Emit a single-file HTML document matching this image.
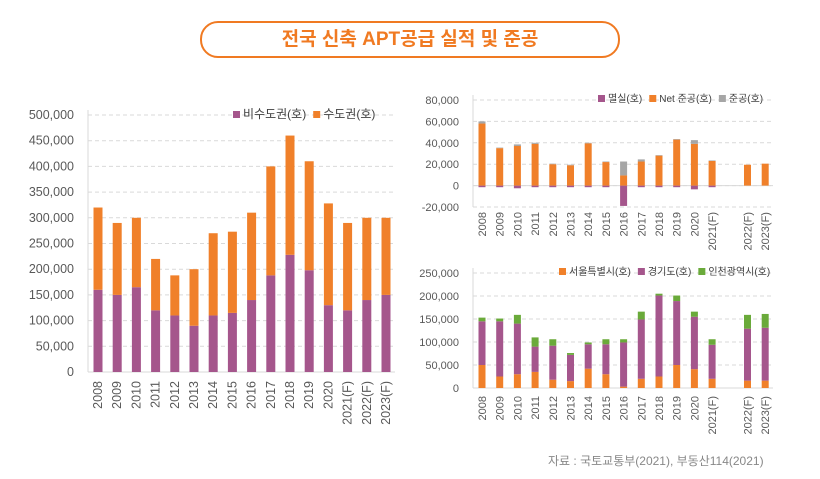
<!DOCTYPE html>
<html><head><meta charset="utf-8"><style>
body{margin:0;background:#fff;width:820px;height:479px;overflow:hidden;font-family:"Liberation Sans","Noto Sans CJK KR",sans-serif}
#title{position:absolute;left:200px;top:21px;width:416px;height:33px;border:2.5px solid #f07a22;border-radius:18px;text-align:center;line-height:33px;font-size:19px;font-weight:bold;color:#f07a22}
#src{position:absolute;left:548px;top:452px;font-size:12px;color:#888}
svg{position:absolute;left:0;top:0}
</style></head><body>
<div id="title">전국 신축 APT공급 실적 및 준공</div>
<div id="src">자료 : 국토교통부(2021), 부동산114(2021)</div>
<svg id="svg" width="820" height="479"></svg>
<script>
// Left chart
const catsL=["2008","2009","2010","2011","2012","2013","2014","2015","2016","2017","2018","2019","2020","2021(F)","2022(F)","2023(F)"];
const nonCapital=[160000,150000,165000,120000,110000,90000,110000,115000,140000,188000,228000,198000,130000,120000,140000,150000];
const capital=[160000,140000,135000,100000,78000,110000,160000,158000,170000,212000,232000,212000,198000,170000,160000,150000];
const ticksL=[0,50000,100000,150000,200000,250000,300000,350000,400000,450000,500000];
// Top-right chart
const catsR=["2008","2009","2010","2011","2012","2013","2014","2015","2016","2017","2018","2019","2020","2021(F)","","2022(F)","2023(F)"];
const demolish=[-1500,-1500,-2500,-1500,-1500,-1500,-1500,-1500,-19000,-1500,-1500,-1500,-3500,-1500,null,0,0];
const netComp=[58000,35000,37000,39000,20000,19000,39500,22000,9500,22500,28000,43000,39000,23000,null,19500,20500];
const grossExtra=[2000,500,1500,1000,500,500,500,500,13000,2000,500,500,3500,500,null,0,0];
const ticksTR=[-20000,0,20000,40000,60000,80000];
// Bottom-right chart
const seoul=[50000,25000,30000,35000,18000,15000,42000,30000,3000,20000,25000,50000,41000,20000,null,16000,16000];
const gyeonggi=[95000,120000,110000,55000,74000,57000,53000,65000,96000,129000,176000,139000,114000,74000,null,113000,115000];
const incheon=[8000,6000,19000,20000,14000,4000,4000,11000,7000,17000,4000,12000,11000,12000,null,30000,30000];
const ticksBR=[0,50000,100000,150000,200000,250000];

const C={pur:"#a5568c",org:"#f0802a",gry:"#a6a6a6",grn:"#6aaa3a"};
const svg=document.getElementById('svg');
const NS="http://www.w3.org/2000/svg";
function mk(t,a,parent){const e=document.createElementNS(NS,t);for(const k in a)e.setAttribute(k,a[k]);(parent||svg).appendChild(e);return e;}
function fmt(v){return v.toLocaleString('en-US');}

function chart(o){
  const g=mk('g',{});
  
  
  const y=v=>o.y0-(v-o.min)/(o.max-o.min)*(o.y0-o.y1);
  const x=i=>o.cx0+i*o.step;
  o.ticks.forEach(t=>{
    if(t!==0||o.min<0){const l=mk('line',{x1:o.ax,x2:o.ax2,y1:y(t),y2:y(t),stroke:"#d9d9d9","stroke-dasharray":"4,3"},g);}
    const tx=mk('text',{x:o.ax-14,y:y(t)+4,"text-anchor":"end","font-size":o.fs,fill:"#595959"},g);tx.textContent=fmt(t);
    
  });
  mk('line',{x1:o.ax,x2:o.ax,y1:o.y1-5,y2:y(o.min),stroke:"#d9d9d9"},g);
  mk('line',{x1:o.ax,x2:o.ax2,y1:y(0),y2:y(0),stroke:"#d9d9d9"},g);
  o.cats.forEach((c,i)=>{
    let pos=0,neg=0;
    o.series.forEach(s=>{
      const v=s.data[i];if(v==null||v===0)return;
      let a,b;
      if(v>0){a=pos;b=pos+v;pos=b;}else{a=neg;b=neg+v;neg=b;}
      const r=mk('rect',{x:x(i)-o.bw/2,y:Math.min(y(a),y(b)),width:o.bw,height:Math.abs(y(a)-y(b)),fill:s.color},g);
      
      
    });
    if(c){const lx=x(i)+4,ly=o.xly;
      const t=mk('text',{x:lx,y:ly,transform:`rotate(-90 ${lx} ${ly})`,"text-anchor":"end","font-size":o.fs,fill:"#595959"},g);t.textContent=c;
      }
  });
  let lx=o.legX;
  o.series.slice().sort((a,b)=>a.lo-b.lo).forEach(s=>{
    const r=mk('rect',{x:lx,y:o.legY-4,width:7,height:7,fill:s.color},g);
    
    const t=mk('text',{x:lx+10,y:o.legY+3,"font-size":o.lfs,fill:"#404040"},g);t.textContent=s.label;
    
    lx+=10+t.getComputedTextLength()+7;
  });
}
chart({name:'left-chart',cats:catsL,ticks:ticksL,min:0,max:500000,y0:372,y1:115,ax:88,ax2:395,cx0:98,step:19.2,bw:9,fs:12.5,lfs:12,xly:381,legX:233,legY:115,
  series:[{key:'noncap',label:'비수도권(호)',data:nonCapital,color:C.pur,lo:0},{key:'cap',label:'수도권(호)',data:capital,color:C.org,lo:1}]});
chart({name:'top-right-chart',cats:catsR,ticks:ticksTR,min:-20000,max:80000,y0:207,y1:100,ax:473,ax2:773,cx0:482,step:17.7,bw:7,fs:11,lfs:10,xly:212,legX:598,legY:99,
  series:[{key:'demolish',label:'멸실(호)',data:demolish,color:C.pur,lo:0},{key:'net',label:'Net 준공(호)',data:netComp,color:C.org,lo:1},{key:'gross',label:'준공(호)',data:grossExtra,color:C.gry,lo:2}]});
chart({name:'bottom-right-chart',cats:catsR,ticks:ticksBR,min:0,max:250000,y0:388,y1:273,ax:473,ax2:773,cx0:482,step:17.7,bw:7,fs:11,lfs:10,xly:396,legX:559,legY:272,
  series:[{key:'seoul',label:'서울특별시(호)',data:seoul,color:C.org,lo:0},{key:'gyeonggi',label:'경기도(호)',data:gyeonggi,color:C.pur,lo:1},{key:'incheon',label:'인천광역시(호)',data:incheon,color:C.grn,lo:2}]});
</script>
</body></html>
